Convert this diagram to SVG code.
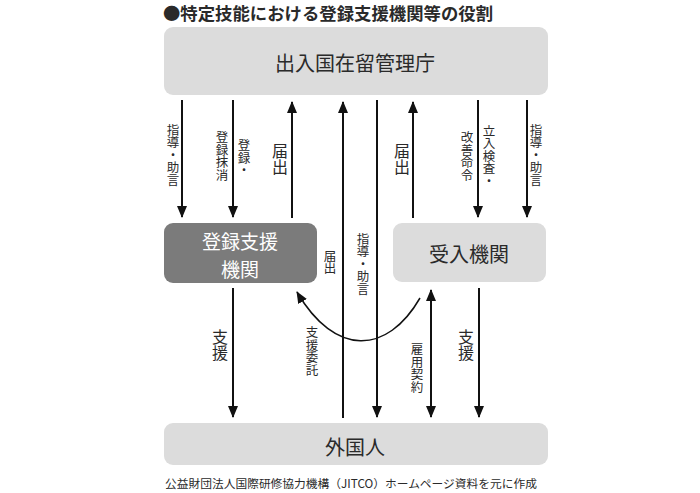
<svg xmlns="http://www.w3.org/2000/svg" width="700" height="493" viewBox="0 0 700 493">
<defs>
<style>
text{font-family:"Noto Sans CJK JP","Noto Sans",sans-serif;fill:#2a2a2a}
.box{fill:#dcdcdc}
.dark{fill:#7b7b7b}
.main{font-size:20px;text-anchor:middle;dominant-baseline:central}
.v{writing-mode:vertical-rl;text-anchor:middle;dominant-baseline:central}
.s13{font-size:12.5px}
.s16{font-size:16px}
.ln{stroke:#111;stroke-width:2;fill:none}
.cv{stroke:#111;stroke-width:1.5;fill:none}
</style>
<marker id="ah" markerUnits="userSpaceOnUse" markerWidth="12" markerHeight="12" viewBox="0 0 12 12" refX="11" refY="6" orient="auto-start-reverse">
<path d="M0,1 L12,6 L0,11 Z" fill="#111"/>
</marker>
<marker id="ah2" markerUnits="userSpaceOnUse" markerWidth="12" markerHeight="12" viewBox="0 0 12 12" refX="11" refY="6" orient="auto">
<path d="M0,1 L12,6 L0,11 Z" fill="#111"/>
</marker>
</defs>
<rect width="700" height="493" fill="#ffffff"/>
<text x="163" y="20" font-size="17" font-weight="bold" textLength="330" lengthAdjust="spacingAndGlyphs">●特定技能における登録支援機関等の役割</text>

<g id="immigration">
<rect class="box" x="164" y="27" width="384" height="68" rx="9"/>
<text class="main" x="355" y="62">出入国在留管理庁</text>
</g>
<g id="support-org">
<rect class="dark" x="164" y="223" width="153" height="60" rx="9"/>
<text x="240" y="240" style="fill:#fff;font-size:19px;text-anchor:middle;dominant-baseline:central">登録支援</text>
<text x="240" y="268" style="fill:#fff;font-size:19px;text-anchor:middle;dominant-baseline:central">機関</text>
</g>
<g id="host-org">
<rect class="box" x="393" y="223" width="153" height="59" rx="9"/>
<text class="main" x="469" y="253">受入機関</text>
</g>
<g id="foreigner">
<rect class="box" x="164" y="423" width="384" height="42" rx="9"/>
<text class="main" x="355" y="446">外国人</text>
</g>

<g id="connectors">
<line class="ln" x1="182" y1="100" x2="182" y2="217" marker-end="url(#ah)"/>
<line class="ln" x1="233" y1="100" x2="233" y2="217" marker-end="url(#ah)"/>
<line class="ln" x1="292" y1="218" x2="292" y2="102" marker-end="url(#ah)"/>
<line class="ln" x1="343" y1="418" x2="343" y2="102" marker-end="url(#ah)"/>
<line class="ln" x1="377" y1="100" x2="377" y2="417" marker-end="url(#ah)"/>
<line class="ln" x1="413" y1="218" x2="413" y2="102" marker-end="url(#ah)"/>
<line class="ln" x1="478" y1="100" x2="478" y2="217" marker-end="url(#ah)"/>
<line class="ln" x1="527" y1="100" x2="527" y2="217" marker-end="url(#ah)"/>
<line class="ln" x1="233" y1="288" x2="233" y2="417" marker-end="url(#ah)"/>
<line class="ln" x1="431" y1="290" x2="431" y2="417" marker-start="url(#ah)" marker-end="url(#ah)"/>
<line class="ln" x1="479" y1="288" x2="479" y2="417" marker-end="url(#ah)"/>
<path class="cv" d="M420,298 C387,355 335,357 297,292" marker-end="url(#ah2)"/>
</g>

<g id="labels">
<text class="v s13" x="173" y="155">指導・助言</text>
<text class="v s13" x="244" y="158">登録・</text>
<text class="v s13" x="222" y="156">登録抹消</text>
<text class="v s16" x="280" y="159">届出</text>
<text class="v s16" x="402" y="159">届出</text>
<text class="v s13" x="489" y="156">立入検査・</text>
<text class="v s13" x="467" y="156">改善命令</text>
<text class="v s13" x="536" y="155">指導・助言</text>
<text class="v s13" x="330" y="262">届出</text>
<text class="v s13" x="363" y="264">指導・助言</text>
<text class="v s16" x="220" y="345">支援</text>
<text class="v s13" x="312" y="351">支援委託</text>
<text class="v s13" x="417" y="368">雇用契約</text>
<text class="v s16" x="466" y="345">支援</text>
</g>

<text x="165" y="488" font-size="11.6" textLength="372" lengthAdjust="spacingAndGlyphs">公益財団法人国際研修協力機構（JITCO）ホームページ資料を元に作成</text>
</svg>
